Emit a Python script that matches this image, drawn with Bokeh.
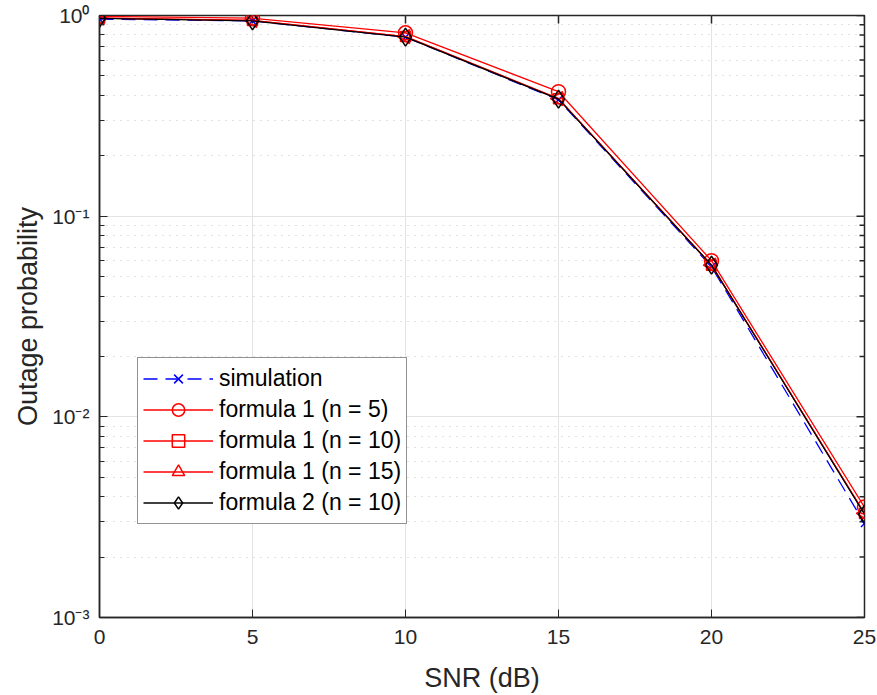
import math
from bokeh.plotting import figure
from bokeh.models import FixedTicker, Legend, LegendItem, Range1d
from bokeh.embed import file_html
from bokeh.resources import INLINE

snr = [0, 5, 10, 15, 20, 25]
simulation = [0.96, 0.94, 0.78, 0.38, 0.056, 0.00294]
formula1_n5 = [0.99, 0.97, 0.82, 0.417, 0.060, 0.00355]
formula1_n10 = [0.97, 0.945, 0.785, 0.385, 0.057, 0.00330]
formula1_n15 = [0.97, 0.945, 0.785, 0.385, 0.057, 0.00330]
formula2_n10 = [0.968, 0.94, 0.78, 0.383, 0.057, 0.00327]

x_ticks = [0, 5, 10, 15, 20, 25]
y_ticks = [1e-3, 1e-2, 1e-1, 1.0]
y_tick_labels = {1e-3: "10\u207b\u00b3", 1e-2: "10\u207b\u00b2", 1e-1: "10\u207b\u00b9", 1.0: "10\u2070"}
y_minor = [m * d for d in [1e-3, 1e-2, 1e-1] for m in range(2, 10)]

FONT = "Liberation Sans"
AX = "#262626"

p = figure(width=877, height=695, y_axis_type="log",
           x_range=Range1d(0, 25), y_range=Range1d(1e-3, 1.0),
           output_backend="svg", toolbar_location=None,
           min_border_left=99, min_border_right=13, min_border_top=15, min_border_bottom=78)
p.background_fill_color = "white"
p.border_fill_color = "white"
p.outline_line_color = AX
p.outline_line_width = 1.5

xt = FixedTicker(ticks=x_ticks, minor_ticks=[])
yt = FixedTicker(ticks=y_ticks, minor_ticks=y_minor)

for ax in [p.xaxis[0], p.yaxis[0]]:
    ax.axis_line_color = AX
    ax.axis_line_width = 1.5
    ax.major_tick_line_color = AX
    ax.minor_tick_line_color = AX
    ax.major_tick_in = 8
    ax.major_tick_out = 0
    ax.minor_tick_in = 5
    ax.minor_tick_out = 0
    ax.major_label_text_font = FONT
    ax.major_label_text_font_size = "21px"
    ax.major_label_text_color = AX
    ax.axis_label_text_font = FONT
    ax.axis_label_text_font_size = "27px"
    ax.axis_label_text_font_style = "normal"
    ax.axis_label_text_color = AX

p.xaxis[0].ticker = xt
p.yaxis[0].ticker = yt
p.xaxis[0].axis_label = "SNR (dB)"
p.yaxis[0].axis_label = "Outage probability"
p.xaxis[0].major_label_standoff = 12
p.xaxis[0].axis_label_standoff = 16
p.yaxis[0].major_label_standoff = 10
p.yaxis[0].axis_label_standoff = 6
p.yaxis[0].major_label_overrides = y_tick_labels

p.xgrid.ticker = xt
p.ygrid.ticker = yt
p.xgrid.grid_line_color = "#e3e3e3"
p.ygrid.grid_line_color = "#e3e3e3"
p.xgrid.grid_line_width = 1
p.ygrid.grid_line_width = 1
p.ygrid.minor_grid_line_color = "#c4c4c4"
p.ygrid.minor_grid_line_dash = "1 6"
p.ygrid.minor_grid_line_width = 1

# inward ticks on the top and right edges (half of each centred dash is clipped by the frame)
p.scatter(x_ticks, [1.0] * len(x_ticks), marker="dash", angle=math.pi / 2, size=16,
          line_color=AX, line_width=1.5)
p.scatter([25] * len(y_ticks), y_ticks, marker="dash", size=16, line_color=AX, line_width=1.5)
p.scatter([25] * len(y_minor), y_minor, marker="dash", size=10, line_color=AX, line_width=1.5)

lw = 1.3
r_sim_l = p.line(snr, simulation, line_color="blue", line_width=lw, line_dash="14 8")
r_sim_m = p.scatter(snr, simulation, marker="x", size=10, line_color="blue", line_width=1.5)

r5_l = p.line(snr, formula1_n5, line_color="red", line_width=lw)
r5_m = p.scatter(snr, formula1_n5, marker="circle", size=14, line_color="red", fill_color=None, line_width=1.5)

r10_l = p.line(snr, formula1_n10, line_color="red", line_width=lw)
r10_m = p.scatter(snr, formula1_n10, marker="square", size=10, line_color="red", fill_color=None, line_width=1.5)

r15_l = p.line(snr, formula1_n15, line_color="red", line_width=lw)
r15_m = p.scatter(snr, formula1_n15, marker="triangle", angle=math.pi / 2, size=14, line_color="red", fill_color=None, line_width=1.5)

r2_l = p.line(snr, formula2_n10, line_color="black", line_width=lw)
r2_m = p.scatter(snr, formula2_n10, marker="diamond", size=18, line_color="black", fill_color=None, line_width=1.5)

legend = Legend(items=[
    LegendItem(label="simulation", renderers=[r_sim_l, r_sim_m]),
    LegendItem(label="formula 1 (n = 5)", renderers=[r5_l, r5_m]),
    LegendItem(label="formula 1 (n = 10)", renderers=[r10_l, r10_m]),
    LegendItem(label="formula 1 (n = 15)", renderers=[r15_l, r15_m]),
    LegendItem(label="formula 2 (n = 10)", renderers=[r2_l, r2_m]),
], location=(38, 93))
legend.label_text_font = FONT
legend.label_text_font_size = "23px"
legend.label_text_color = "black"
legend.glyph_width = 70
legend.glyph_height = 31
legend.label_height = 31
legend.label_standoff = 6
legend.spacing = 0
legend.padding = 5
legend.margin = 0
legend.border_line_color = AX
legend.border_line_width = 1.2
legend.background_fill_color = "white"
legend.background_fill_alpha = 1.0
p.add_layout(legend, "center")

open("out.html", "w").write(file_html(p, INLINE))
